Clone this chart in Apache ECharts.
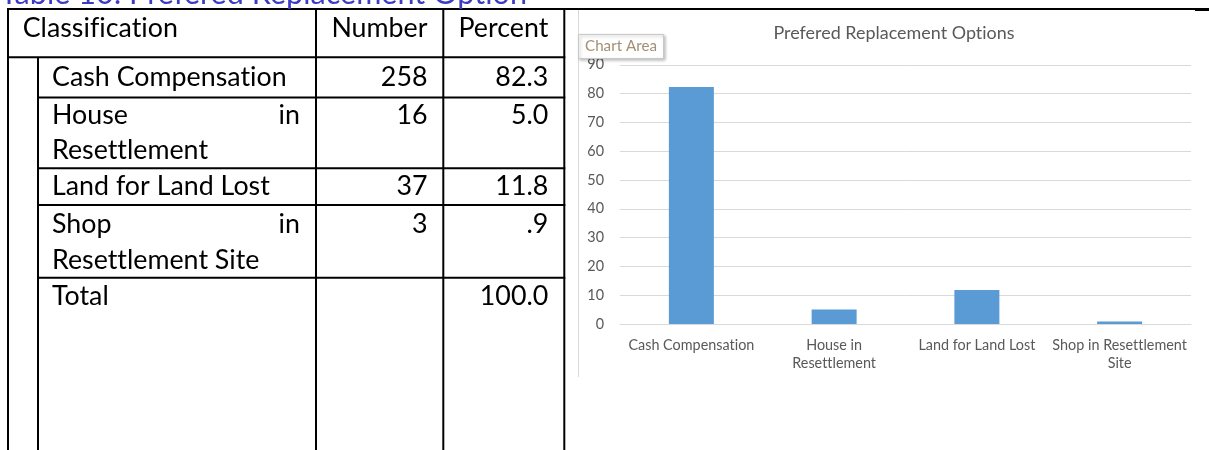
<!DOCTYPE html>
<html><head><meta charset="utf-8">
<script src="https://cdn.jsdelivr.net/npm/echarts@6/dist/echarts.min.js"></script>
<style>html,body{margin:0;padding:0;background:#fff}#c{width:1209px;height:450px}</style>
</head><body><div id="c"></div>
<script>
// ---- data ----
const caption = 'Table 10: Prefered Replacement Option';
const tableHeader = ['Classification', 'Number', 'Percent'];
const classLines = [['Cash Compensation'], ['House in', 'Resettlement'], ['Land for Land Lost'], ['Shop in', 'Resettlement Site'], ['Total']];
const numberLabels = ['258', '16', '37', '3', ''];
const percentLabels = ['82.3', '5.0', '11.8', '.9', '100.0'];
const chartTitle = 'Prefered Replacement Options';
const categories = ['Cash Compensation', 'House in\nResettlement', 'Land for Land Lost', 'Shop in Resettlement\nSite'];
const percentValues = [82.3, 5.0, 11.8, 0.9];
const yMin = 0, yMax = 90, yStep = 10;

// ---- turn off typographic ligatures (Word/Excel do not use them) ----
function noLig(ctx) {
  try { ctx.textRendering = 'optimizeSpeed'; } catch (e) {}
  try { ctx.letterSpacing = '0.01px'; } catch (e) {}
}
['fillText', 'strokeText', 'measureText'].forEach(fn => {
  const orig = CanvasRenderingContext2D.prototype[fn];
  CanvasRenderingContext2D.prototype[fn] = function () { noLig(this); return orig.apply(this, arguments); };
});

// ---- font fitting ----
const FONT = 'Lato';
const mctx = document.createElement('canvas').getContext('2d');
function fit(text, target, fam) {
  mctx.font = '100px ' + (fam || FONT);
  return 100 * target / mctx.measureText(text).width;
}
const fsTable = fit('Cash Compensation', 234.6);
const fsCap = fit(caption, 527);
const fsTitle = fit(chartTitle, 241);
const fsAxis = fit('Cash Compensation', 126);
const fsTip = fit('Chart Area', 72);

// ---- layout of table ----
const colX = [8, 38, 316, 443.3, 564.3];
const rowY = [57.3, 97.5, 168.3, 205, 277.7];
const textLeft = 52, textJustRight = 300, numRight = 427.5, pctRight = 548.3;

const g = [];
function line(x1, y1, x2, y2, w, c) {
  g.push({ type: 'line', z: 50, shape: { x1, y1, x2, y2 }, style: { stroke: c || '#000', lineWidth: w || 2 } });
}
function txt(t, x, y, fs, align, color, fam) {
  g.push({ type: 'text', z: 60, x, y, style: { text: t, fontSize: fs, fontFamily: fam || FONT, fill: color || '#000', align: align || 'left', verticalAlign: 'middle' } });
}
// caption (cut off at top)
txt(caption, 0, 6 - 0.39 * fsCap, fsCap, 'left', '#3B3BC4');
// borders
line(7, 9, 1195, 9, 2);
line(1195, 9.5, 1209, 9.5, 3);
line(7, 57.3, colX[4] + 1, 57.3, 2);
[colX[0], colX[2], colX[3], colX[4]].forEach(x => line(x, 8, x, 450, 2));
line(colX[1], 57.3, colX[1], 450, 2);
rowY.slice(1).forEach(y => line(colX[1], y, colX[4] + 1, y, 2));
// header
txt(tableHeader[0], 22.7, 28.3, fsTable);
txt(tableHeader[1], numRight, 28.3, fsTable, 'right');
txt(tableHeader[2], pctRight, 28.3, fsTable, 'right');
// rows
const ys = [[77.3, 0], [115, 150.5], [186.7, 0], [224.3, 260], [296.7, 0]];
classLines.forEach((lines, i) => {
  lines.forEach((l, j) => {
    const y = ys[i][j];
    if (lines.length > 1 && j < lines.length - 1) {
      const words = l.split(' ');
      txt(words[0], textLeft, y, fsTable, 'left');
      txt(words[words.length - 1], textJustRight, y, fsTable, 'right');
    } else {
      txt(l, textLeft, y, fsTable, 'left');
    }
  });
  if (numberLabels[i]) txt(numberLabels[i], numRight, ys[i][0], fsTable, 'right');
  txt(percentLabels[i], pctRight, ys[i][0], fsTable, 'right');
});
// chart area decorations
line(578.5, 10, 578.5, 377, 1, '#D9D9D9');
txt(chartTitle, 894, 33, fsTitle, 'center', '#595959');
g.push({ type: 'rect', z: 70, shape: { x: 578.5, y: 34.5, width: 85, height: 24 },
  style: { fill: '#fff', stroke: '#C8C8C8', lineWidth: 1, shadowBlur: 3, shadowOffsetX: 1.5, shadowOffsetY: 1.5, shadowColor: 'rgba(0,0,0,0.25)' } });
g.push({ type: 'text', z: 71, x: 585, y: 46.5, style: { text: 'Chart Area', fontSize: fsTip, fontFamily: FONT, fill: '#A38F74', align: 'left', verticalAlign: 'middle' } });

const chart = echarts.init(document.getElementById('c'), null, { renderer: 'canvas' });
chart.setOption({
  animation: false,
  grid: { left: 620, right: 18, top: 64.8, bottom: 126, containLabel: false },
  xAxis: {
    type: 'category', data: categories,
    axisTick: { show: false },
    axisLine: { lineStyle: { color: '#D9D9D9', width: 1 } },
    axisLabel: { interval: 0, color: '#595959', fontSize: fsAxis, fontFamily: FONT, lineHeight: 18.5, margin: 12, align: 'center' }
  },
  yAxis: {
    type: 'value', min: yMin, max: yMax, interval: yStep,
    axisLine: { show: false }, axisTick: { show: false },
    axisLabel: { color: '#595959', fontSize: fsAxis, fontFamily: FONT, margin: 16 },
    splitLine: { lineStyle: { color: '#D9D9D9', width: 1 } }
  },
  series: [{ type: 'bar', data: percentValues, barWidth: 45, itemStyle: { color: '#5B9BD5' } }],
  graphic: g
});
</script></body></html>
